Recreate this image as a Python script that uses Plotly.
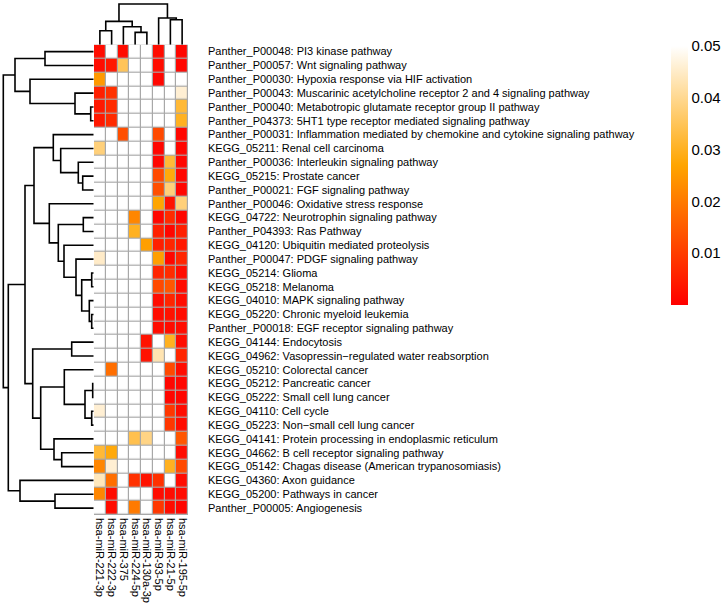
import plotly.graph_objects as go

W, H = 728, 611

col_labels = ["hsa-miR-221-3p", "hsa-miR-222-3p", "hsa-miR-375", "hsa-miR-224-5p",
              "hsa-miR-130a-3p", "hsa-miR-93-5p", "hsa-miR-21-5p", "hsa-miR-195-5p"]

row_labels = [
    "Panther_P00048: PI3 kinase pathway",
    "Panther_P00057: Wnt signaling pathway",
    "Panther_P00030: Hypoxia response via HIF activation",
    "Panther_P00043: Muscarinic acetylcholine receptor 2 and 4 signaling pathway",
    "Panther_P00040: Metabotropic glutamate receptor group II pathway",
    "Panther_P04373: 5HT1 type receptor mediated signaling pathway",
    "Panther_P00031: Inflammation mediated by chemokine and cytokine signaling pathway",
    "KEGG_05211: Renal cell carcinoma",
    "Panther_P00036: Interleukin signaling pathway",
    "KEGG_05215: Prostate cancer",
    "Panther_P00021: FGF signaling pathway",
    "Panther_P00046: Oxidative stress response",
    "KEGG_04722: Neurotrophin signaling pathway",
    "Panther_P04393: Ras Pathway",
    "KEGG_04120: Ubiquitin mediated proteolysis",
    "Panther_P00047: PDGF signaling pathway",
    "KEGG_05214: Glioma",
    "KEGG_05218: Melanoma",
    "KEGG_04010: MAPK signaling pathway",
    "KEGG_05220: Chronic myeloid leukemia",
    "Panther_P00018: EGF receptor signaling pathway",
    "KEGG_04144: Endocytosis",
    "KEGG_04962: Vasopressin\u2212regulated water reabsorption",
    "KEGG_05210: Colorectal cancer",
    "KEGG_05212: Pancreatic cancer",
    "KEGG_05222: Small cell lung cancer",
    "KEGG_04110: Cell cycle",
    "KEGG_05223: Non\u2212small cell lung cancer",
    "KEGG_04141: Protein processing in endoplasmic reticulum",
    "KEGG_04662: B cell receptor signaling pathway",
    "KEGG_05142: Chagas disease (American trypanosomiasis)",
    "KEGG_04360: Axon guidance",
    "KEGG_05200: Pathways in cancer",
    "Panther_P00005: Angiogenesis",
]

N = None
pvalues = [
    [0.002, N, 0.002, N, N, 0.002, N, 0.001],
    [0.002, 0.004, 0.035, N, N, 0.002, N, 0.001],
    [0.025, N, N, N, N, 0.001, N, N],
    [0.005, 0.008, N, N, N, N, N, 0.046],
    [0.004, 0.007, N, N, N, N, N, 0.032],
    [0.004, 0.007, N, N, N, N, N, 0.030],
    [N, N, 0.013, N, N, 0.012, N, 0.001],
    [0.038, N, N, N, N, 0.001, N, 0.001],
    [N, N, N, N, N, 0.001, 0.032, 0.001],
    [N, N, N, N, N, 0.012, 0.028, 0.001],
    [N, N, N, N, N, 0.013, 0.038, 0.001],
    [N, N, N, N, N, 0.027, 0.003, 0.038],
    [N, N, N, 0.022, N, 0.001, 0.007, 0.001],
    [N, N, N, 0.030, N, 0.005, 0.001, 0.005],
    [N, N, N, N, 0.026, 0.005, 0.006, 0.004],
    [0.045, N, N, N, N, 0.026, 0.001, 0.006],
    [N, N, N, N, N, 0.006, 0.007, 0.002],
    [N, N, N, N, N, 0.012, 0.014, 0.002],
    [N, N, N, N, N, 0.002, 0.006, 0.002],
    [N, N, N, N, N, 0.002, 0.003, 0.002],
    [N, N, N, N, N, 0.002, 0.002, 0.002],
    [N, N, N, N, 0.003, N, 0.030, 0.002],
    [N, N, N, N, 0.003, 0.043, N, 0.006],
    [N, 0.018, N, N, N, N, 0.012, 0.002],
    [N, N, N, N, N, N, 0.001, 0.001],
    [N, N, N, N, N, N, 0.001, 0.001],
    [0.046, N, N, N, N, N, 0.009, 0.002],
    [N, N, N, N, N, N, 0.009, 0.002],
    [N, N, N, 0.034, 0.039, N, N, 0.014],
    [0.032, 0.028, N, N, N, N, N, 0.002],
    [0.022, 0.046, N, N, N, N, 0.030, 0.012],
    [0.044, 0.018, N, 0.008, 0.003, 0.008, N, 0.002],
    [0.022, 0.002, N, N, N, 0.002, 0.002, 0.002],
    [N, 0.002, N, 0.020, N, 0.009, 0.002, 0.001],
]

# row dendrogram merges: (name, left, right, height)
row_merges = [
    ("A", 4, 5, 2.8), ("B", 3, "A", 18.5), ("C", 2, "B", 63.5),
    ("D", 0, 1, 48.5), ("E", "D", "C", 78.5),
    ("F", 9, 10, 10.8), ("G", 8, "F", 15.2), ("H", 7, "G", 32.8), ("I", 6, "H", 40.2),
    ("J", 19, 20, 1.8), ("K", 18, "J", 4.2), ("L", 16, 17, 1.8), ("M", "L", "K", 11.8),
    ("N", 15, "M", 17.5), ("O", 14, "N", 29.5), ("P", 12, 13, 10.2), ("Q", "P", "O", 35.2),
    ("R", 11, "Q", 44.2), ("S", "I", "R", 59.5),
    ("T", 21, 22, 21.8), ("U", 24, 25, 0.8), ("V", 26, 27, 1.8), ("W", "U", "V", 8.5),
    ("X", 23, "W", 29.2), ("Y", 29, 30, 31.8), ("Z", 28, "Y", 39.5), ("AA", "X", "Z", 52.8),
    ("AB", "T", "AA", 60.8), ("AC", "S", "AB", 68.5),
    ("AD", 32, 33, 38.5), ("AE", 31, "AD", 73.5), ("AF", "AC", "AE", 85.2),
    ("AG", "E", "AF", 90.2),
]

col_merges = [
    ("c12", 0, 1, 14.0), ("c45", 3, 4, 12.3), ("c345", 2, "c45", 18.0),
    ("cL", "c12", "c345", 23.3), ("c78", 6, 7, 25.0), ("cR", 5, "c78", 26.7),
    ("cT", "cL", "cR", 40.7),
]

ZMAX = 0.05


def dendro_segments(merges):
    pos, hgt = {}, {}
    xs, ys = [], []

    def get(n):
        if isinstance(n, int):
            return float(n), 0.0
        return pos[n], hgt[n]

    for name, a, b, h in merges:
        pa, ha = get(a)
        pb, hb = get(b)
        xs += [pa, pa, pb, pb, None]
        ys += [ha, h, h, hb, None]
        pos[name] = (pa + pb) / 2
        hgt[name] = h
    return xs, ys


z = [[ZMAX if v is None else v for v in row] for row in pvalues]
nr, nc = len(row_labels), len(col_labels)

fig = go.Figure()

fig.add_trace(go.Heatmap(
    z=z, x=list(range(nc)), y=list(range(nr)),
    zmin=0, zmax=ZMAX,
    colorscale=[[0, "#FF0000"], [0.54, "#FFA500"], [1, "#FFFFFF"]],
    xgap=1.2, ygap=1.2,
    colorbar=dict(
        x=671 / W, xanchor="left", y=1 - 46 / H, yanchor="top",
        xpad=0, ypad=0,
        thickness=17, thicknessmode="pixels", len=259, lenmode="pixels",
        outlinewidth=0, tickvals=[0.01, 0.02, 0.03, 0.04, 0.05],
        ticktext=["0.01", "0.02", "0.03", "0.04", "0.05"],
        ticks="", tickfont=dict(size=15, color="black", family="Liberation Sans, Arial"),
    ),
    hoverinfo="z",
))

# row dendrogram (pos = row index, height along x2)
rx, ry = dendro_segments(row_merges)
fig.add_trace(go.Scatter(x=ry, y=rx, mode="lines", xaxis="x2", yaxis="y",
                         line=dict(color="black", width=1.6), hoverinfo="skip", showlegend=False))
# column dendrogram
cx, cy = dendro_segments(col_merges)
fig.add_trace(go.Scatter(x=cx, y=cy, mode="lines", xaxis="x", yaxis="y2",
                         line=dict(color="black", width=1.6), hoverinfo="skip", showlegend=False))

hx0, hx1 = 94 / W, 188 / W
hy0, hy1 = 1 - 515 / H, 1 - 44.7 / H
font = dict(family="Liberation Sans, Arial", size=11, color="black")

fig.update_layout(
    width=W, height=H, margin=dict(l=0, r=0, t=0, b=0, autoexpand=False),
    paper_bgcolor="white", plot_bgcolor="white", showlegend=False,
    xaxis=dict(domain=[hx0, hx1], range=[-0.5, nc - 0.5], tickvals=list(range(nc)),
               ticktext=col_labels, tickangle=90, tickfont=font, showgrid=False,
               zeroline=False, ticks="", showline=False, anchor="y", ticklabelstandoff=2,
               automargin=False),
    yaxis=dict(domain=[hy0, hy1], range=[nr - 0.5, -0.5], tickvals=list(range(nr)),
               ticktext=row_labels, side="right", tickfont=font, showgrid=False,
               zeroline=False, ticks="", showline=False, anchor="x", ticklabelstandoff=19,
               automargin=False),
    xaxis2=dict(domain=[0, hx0], range=[93.5, -0.5], visible=False, anchor="y"),
    yaxis2=dict(domain=[hy1, 1], range=[0, 44.7], visible=False, anchor="x"),
    shapes=[dict(type="rect", xref="x", yref="y", x0=-0.55, x1=nc - 0.45,
                 y0=-0.55, y1=nr - 0.45, fillcolor="#A8A8A8", line=dict(width=0),
                 layer="below")],
)

fig.write_html("out.html", config={"displayModeBar": False},
               post_script="document.body.style.margin='0';document.body.style.overflow='hidden';")
